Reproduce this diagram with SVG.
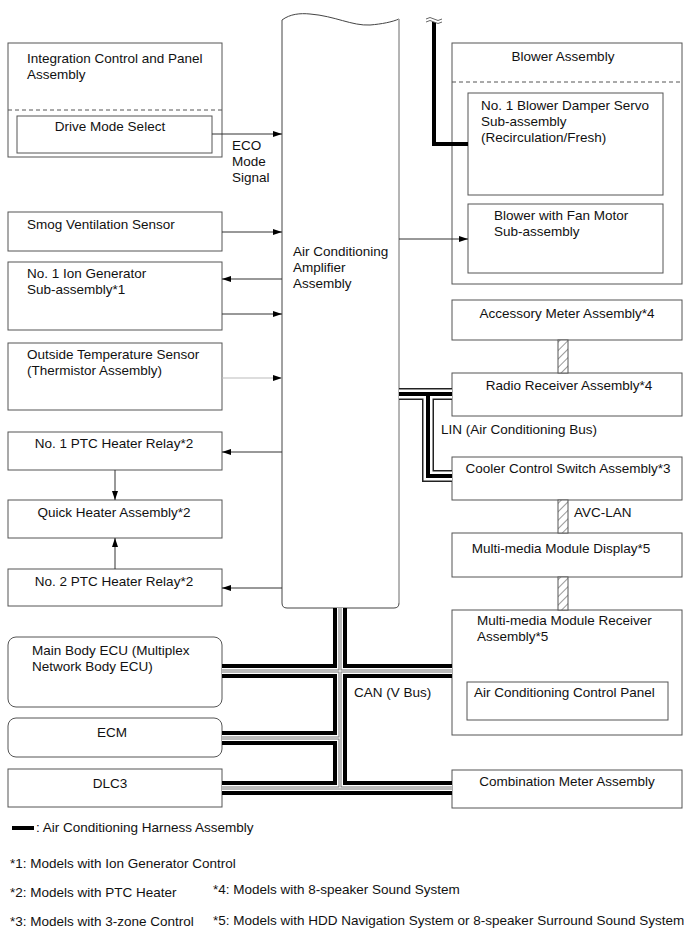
<svg xmlns="http://www.w3.org/2000/svg" width="690" height="951" viewBox="0 0 690 951">
<style>
text{font-family:"Liberation Sans",Arial,sans-serif;font-size:13.5px;fill:#111}
.c{text-anchor:middle}
.box{fill:#fff;stroke:#555;stroke-width:1}
.dash{stroke:#555;stroke-width:1;stroke-dasharray:4,3;fill:none}
.arr{stroke:#333;stroke-width:1;fill:none;marker-end:url(#ah)}
.hatch{fill:url(#hp);stroke:#555;stroke-width:1}
.l1{stroke:#222;stroke-width:12;fill:none}
.l2{stroke:#fff;stroke-width:9;fill:none}
.l3{stroke:#000;stroke-width:4;fill:none}
.c1{stroke:#000;stroke-width:14;fill:none}
.c2{stroke:#fff;stroke-width:6;fill:none}
.c3{stroke:#777;stroke-width:3;fill:none}
.c4{stroke:#fff;stroke-width:1;fill:none}
</style>
<defs>
<marker id="ah" markerWidth="9" markerHeight="6" refX="9" refY="3" orient="auto" markerUnits="userSpaceOnUse"><path d="M0,0 L9,3 L0,6 z" fill="#000"/></marker>
<pattern id="hp" width="6" height="6" patternUnits="userSpaceOnUse" patternTransform="rotate(45)"><rect width="6" height="6" fill="#fff"/><line x1="0" y1="0" x2="0" y2="6" stroke="#333" stroke-width="1"/></pattern>
</defs>

<g id="nodes">
<g id="amp">
<path d="M287,608 Q282,608 282,603 V20 C290,14 300,13 310,14 C335,16 352,26 370,25 C382,24 392,22 399,19 V603 Q399,608 394,608 Z" fill="#fff" stroke="#444"/>
<line x1="399" y1="19" x2="399" y2="603" stroke="#bbb" stroke-width="1.5"/>
<text x="293" y="256">Air Conditioning</text>
<text x="293" y="272">Amplifier</text>
<text x="293" y="288">Assembly</text>
</g>
<g id="integration">
<rect class="box" x="8" y="43" width="214" height="114"/>
<line class="dash" x1="8" y1="110" x2="222" y2="110"/>
<text x="27" y="63">Integration Control and Panel</text>
<text x="27" y="79">Assembly</text>
</g>
<g id="drive-mode">
<rect class="box" x="17" y="116" width="195" height="37"/>
<text class="c" x="110" y="131">Drive Mode Select</text>
</g>
<g id="smog"><rect class="box" x="8" y="212" width="214" height="39"/><text x="27" y="229">Smog Ventilation Sensor</text></g>
<g id="ion"><rect class="box" x="8" y="262" width="214" height="68"/><text x="27" y="278">No. 1 Ion Generator</text><text x="27" y="294">Sub-assembly*1</text></g>
<g id="outside"><rect class="box" x="8" y="343" width="214" height="67"/><text x="27" y="359">Outside Temperature Sensor</text><text x="27" y="375">(Thermistor Assembly)</text></g>
<g id="ptc1"><rect class="box" x="8" y="432" width="214" height="38"/><text class="c" x="114" y="448">No. 1 PTC Heater Relay*2</text></g>
<g id="quick"><rect class="box" x="8" y="500" width="214" height="38"/><text class="c" x="114" y="517">Quick Heater Assembly*2</text></g>
<g id="ptc2"><rect class="box" x="8" y="569" width="214" height="37"/><text class="c" x="114" y="586">No. 2 PTC Heater Relay*2</text></g>
<g id="mainbody"><rect class="box" x="8" y="637" width="214" height="70" rx="8"/><text x="32" y="655">Main Body ECU (Multiplex</text><text x="32" y="671">Network Body ECU)</text></g>
<g id="ecm"><rect class="box" x="8" y="718" width="214" height="39" rx="8"/><text class="c" x="112" y="737">ECM</text></g>
<g id="dlc3"><rect class="box" x="8" y="769" width="214" height="38"/><text class="c" x="110" y="788">DLC3</text></g>

<g id="blower">
<rect class="box" x="452" y="43" width="230" height="241"/>
<line class="dash" x1="452" y1="82" x2="682" y2="82"/>
<text class="c" x="563" y="61">Blower Assembly</text>
</g>
<g id="damper"><rect class="box" x="468" y="93" width="195" height="102"/><text x="481" y="110">No. 1 Blower Damper Servo</text><text x="481" y="126">Sub-assembly</text><text x="481" y="142">(Recirculation/Fresh)</text></g>
<g id="fan"><rect class="box" x="468" y="204" width="195" height="69"/><text x="494" y="220">Blower with Fan Motor</text><text x="494" y="236">Sub-assembly</text></g>
<g id="accessory"><rect class="box" x="452" y="300" width="230" height="40"/><text class="c" x="567" y="318">Accessory Meter Assembly*4</text></g>
<g id="radio"><rect class="box" x="452" y="373" width="230" height="43"/><text class="c" x="569" y="390">Radio Receiver Assembly*4</text></g>
<g id="cooler"><rect class="box" x="452" y="457" width="230" height="43"/><text class="c" x="568" y="473">Cooler Control Switch Assembly*3</text></g>
<g id="mmdisplay"><rect class="box" x="452" y="533" width="230" height="44"/><text class="c" x="561" y="553">Multi-media Module Display*5</text></g>
<g id="mmreceiver"><rect class="box" x="452" y="610" width="230" height="125"/><text x="477" y="625">Multi-media Module Receiver</text><text x="477" y="641">Assembly*5</text></g>
<g id="acpanel"><rect class="box" x="467" y="682" width="201" height="38"/><text x="474" y="697">Air Conditioning Control Panel</text></g>
<g id="combination"><rect class="box" x="452" y="770" width="230" height="38"/><text class="c" x="567" y="786">Combination Meter Assembly</text></g>
</g>

<g id="connectors">
<line class="arr" x1="212" y1="134" x2="282" y2="134"/>
<text x="232" y="150">ECO</text><text x="232" y="166">Mode</text><text x="232" y="182">Signal</text>
<line class="arr" x1="222" y1="232" x2="282" y2="232"/>
<line class="arr" x1="282" y1="279" x2="222" y2="279"/>
<line class="arr" x1="222" y1="314" x2="282" y2="314"/>
<line class="arr" x1="222" y1="378" x2="282" y2="378" style="stroke:#bbb"/>
<line class="arr" x1="282" y1="452" x2="222" y2="452"/>
<line class="arr" x1="282" y1="588" x2="222" y2="588"/>
<line class="arr" x1="115" y1="470" x2="115" y2="500"/>
<line class="arr" x1="115" y1="569" x2="115" y2="538"/>
<line class="arr" x1="399" y1="239" x2="468" y2="239"/>

<path d="M434,22 V144 H468" stroke="#000" stroke-width="4" fill="none"/>
<path d="M426,19 q4,-3 8,0 t8,0 M426,22 q4,-3 8,0 t8,0" stroke="#666" stroke-width="1" fill="none"/>

<g id="lin">
<path class="l1" d="M399,394 H452 M428,394 V476 H452"/>
<path class="l2" d="M399,394 H452 M428,394 V476 H452"/>
<path class="l3" d="M399,394 H452 M428,394 V476 H452"/>
</g>
<text x="441" y="434">LIN (Air Conditioning Bus)</text>

<rect class="hatch" x="558" y="340" width="10" height="33"/>
<rect class="hatch" x="558" y="500" width="10" height="33"/>
<rect class="hatch" x="558" y="577" width="10" height="33"/>
<text x="574" y="517">AVC-LAN</text>

<g id="can">
<path class="c1" d="M340,608 V788 M222,671 H452 M222,738 H340 M222,788 H452"/>
<path class="c2" d="M340,608 V788 M222,671 H452 M222,738 H340 M222,788 H452"/>
<path class="c3" d="M340,608 V788 M222,671 H452 M222,738 H340 M222,788 H452"/>
<path class="c4" d="M340,608 V788 M222,671 H452 M222,738 H340 M222,788 H452"/>
</g>
<text x="354" y="697">CAN (V Bus)</text>
</g>

<g id="legend">
<line x1="12" y1="828" x2="34" y2="828" stroke="#000" stroke-width="4"/>
<text x="36" y="832">: Air Conditioning Harness Assembly</text>
<text x="10" y="868">*1: Models with Ion Generator Control</text>
<text x="10" y="897">*2: Models with PTC Heater</text>
<text x="213" y="894">*4: Models with 8-speaker Sound System</text>
<text x="10" y="926">*3: Models with 3-zone Control</text>
<text x="213" y="925">*5: Models with HDD Navigation System or 8-speaker Surround Sound System</text>
</g>
</svg>
